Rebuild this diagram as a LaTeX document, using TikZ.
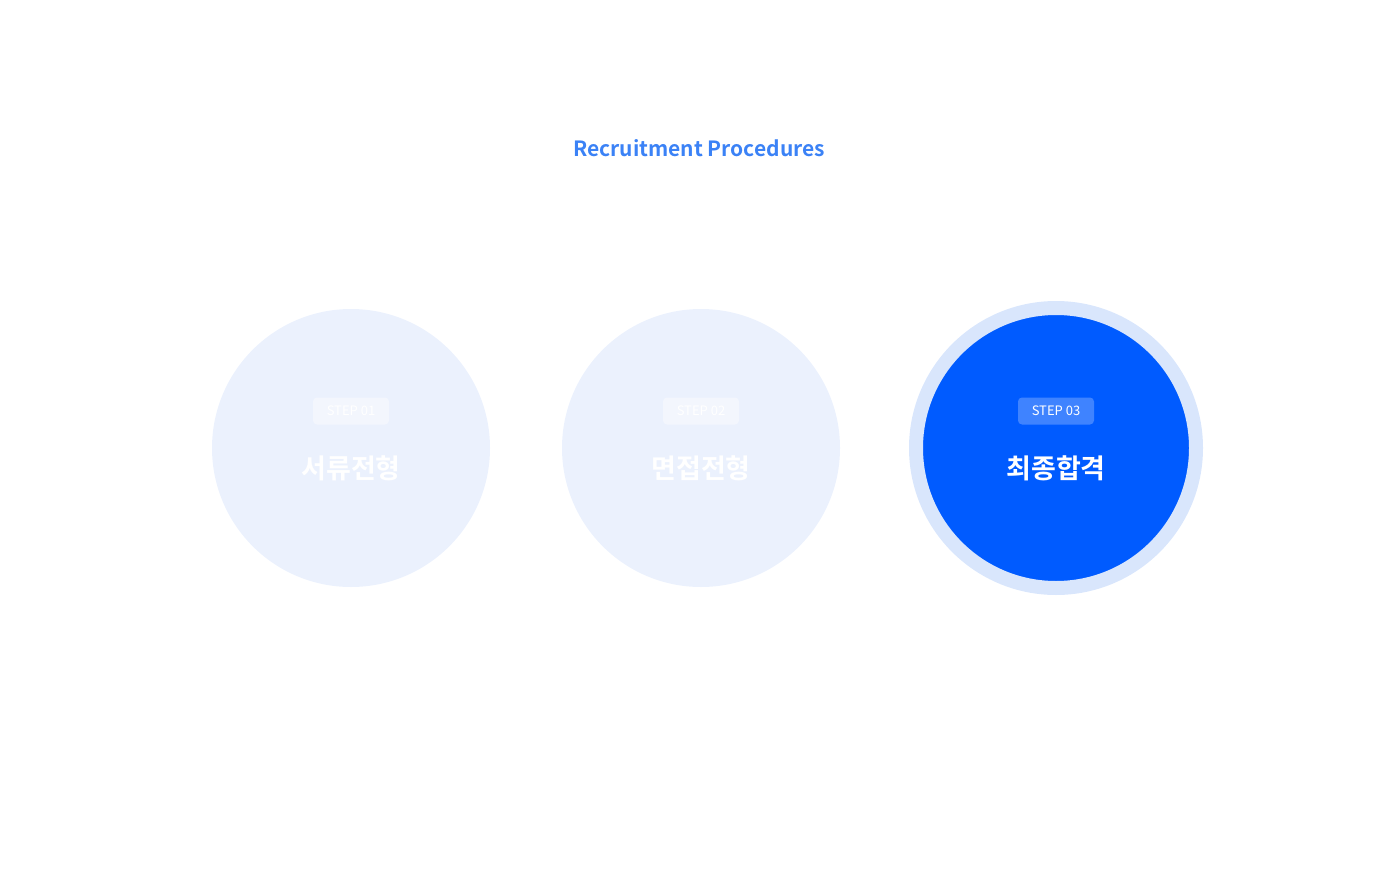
\documentclass[tikz,border=0pt]{standalone}
\usepackage{fontspec}
\setmainfont{Noto Sans CJK KR}
\newfontfamily\krbold{Noto Sans CJK KR Bold}
\usetikzlibrary{positioning}
\definecolor{headblue}{HTML}{3B82F6}
\definecolor{stepfaint}{HTML}{EBF1FD}
\definecolor{stepblue}{HTML}{005BFF}
\definecolor{stephalo}{HTML}{D9E6FC}
\definecolor{badgeblue}{HTML}{3F83FF}
\tikzset{
  faint/.style={circle, fill=stepfaint, minimum size=278pt, inner sep=0pt},
  active/.style={circle, fill=stepblue, minimum size=280pt, inner sep=0pt, draw=stephalo, line width=14pt},
  badge/.style={rounded corners=4pt, minimum width=76pt, minimum height=27pt, inner sep=0pt,
    text=white, font=\fontsize{13pt}{13pt}\selectfont},
  stepname/.style={text=white, font=\krbold\fontsize{27pt}{27pt}\selectfont}
}
\begin{document}
\begin{tikzpicture}[x=1pt,y=-1pt]
  \useasboundingbox (0,0) rectangle (1400,880);
  \node[text=headblue, font=\krbold\fontsize{21pt}{21pt}\selectfont] (title) at (699,148) {Recruitment Procedures};

  \node[faint] (docs) at (351,448) {};
  \node[badge, fill=white, fill opacity=0.4, text opacity=1] (badge1) at (351,411) {STEP 01};
  \node[stepname] (name1) at (351,468) {서류전형};

  \node[faint] (interview) at (701,448) {};
  \node[badge, fill=white, fill opacity=0.4, text opacity=1] (badge2) at (701,411) {STEP 02};
  \node[stepname] (name2) at (701,468) {면접전형};

  \node[active] (final) at (1056,448) {};
  \node[badge, fill=badgeblue] (badge3) at (1056,411) {STEP 03};
  \node[stepname] (name3) at (1056,468) {최종합격};
\end{tikzpicture}
\end{document}
